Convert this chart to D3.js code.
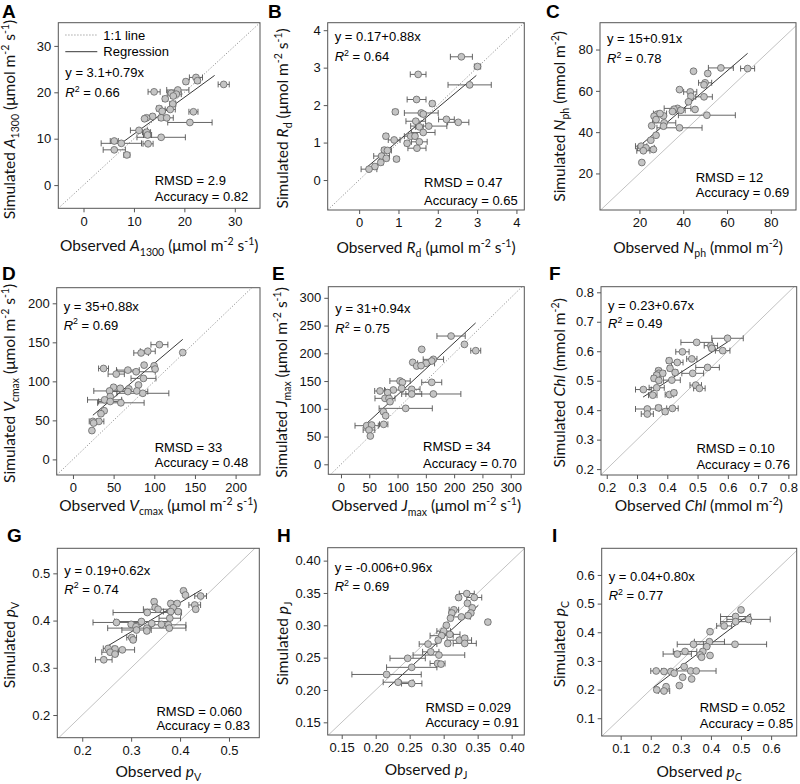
<!DOCTYPE html>
<html><head><meta charset="utf-8">
<script src="https://cdn.jsdelivr.net/npm/d3@7"></script>
<style>body{margin:0;background:#fff} svg{display:block} text{white-space:pre}</style>
</head><body><svg id="c" width="800" height="784"></svg>
<script>
// ---------- DATA ----------
const aObs = [22.3,22.6,20.3,27.8,14.0,18.7,17.4,18.4,17.8,16.2,17.7,15.0,17.2,15.6,21.8,13.7,15.4,12.5,12.1,16.5,21.1,11.0,12.5,12.7,15.4,6.1,7.5,12.8,6.1,8.6];
const aSim = [23.2,22.5,22.3,21.7,20.1,20.5,19.8,19.6,19.2,18.6,17.5,16.5,16.3,15.9,15.8,14.8,14.5,14.5,14.3,14.5,13.5,11.8,11.4,10.8,10.3,9.5,9.0,8.9,7.6,6.5];
const aErr = [1.3,0.5,0.4,1.1,1.2,2.2,0.8,1.0,0.5,0.5,0.6,0.5,1.0,0.5,0.9,0.4,0.5,0.4,0.4,1.3,4.4,1.7,0.8,0.8,4.8,0.8,4.0,1.0,2.2,0.6];

const bObs = [2.60,3.01,1.50,2.81,1.46,1.86,0.92,1.58,1.63,2.22,2.52,1.44,1.53,1.77,1.63,0.68,1.31,1.42,0.89,1.53,1.22,1.47,0.64,0.72,0.57,0.69,0.95,0.55,0.40,0.25];
const bSim = [3.29,3.03,2.82,2.54,2.15,2.04,1.82,1.79,1.76,1.62,1.54,1.57,1.42,1.44,1.27,1.17,1.17,1.17,1.07,1.02,0.98,0.85,0.80,0.79,0.64,0.58,0.56,0.47,0.36,0.29];
const bErr = [0.28,0.08,0.2,0.55,0.24,0.06,0.06,0.43,0.06,0.2,0.27,0.25,0.1,0.46,0.3,0.06,0.16,0.06,0.15,0.2,0.06,0.23,0.06,0.1,0.2,0.06,0.06,0.06,0.06,0.2];

const cObs = [57.2,69.4,44.7,51.2,50.0,49.5,38.3,43.2,43.5,49.5,42.4,37.4,35.8,38.9,35.1,45.4,50.8,28.2,26.7,31.0,29.4,27.6,31.3,38.3,31.0,25.6,27.6,25.2,20.8,23.0,21.8,26.4,21.1];
const cSim = [71.1,70.8,69.5,68.4,63.9,62.9,60.6,59.5,57.4,57.1,54.7,51.5,51.1,50.6,50.0,51.0,48.2,48.7,47.7,47.9,49.0,46.1,44.5,42.1,42.9,43.1,38.5,36.1,33.2,32.4,31.0,31.6,25.3];
const cErr = [5.7,3.2,0.5,0.5,3.0,1.0,0.5,3.0,1.0,3.8,0.5,6.1,0.5,2.0,0.5,0.5,13,0.5,0.5,0.5,3.0,0.5,5.3,10.3,0.5,0.5,0.5,0.5,2.6,3.8,3.0,0.5,0.5];

const dObs = [106.3,92.0,83.8,135.0,37.6,99.8,87.5,101,67.5,77.7,53.2,86.7,80.6,49.9,58.1,68.7,45,78.5,67.5,85.9,45.8,38.9,45.8,58.9,38.4,34.4,31.9,24.5,25.4,23.3];
const dSim = [147.0,138.6,136.4,136.9,116.5,119.9,120.8,115.7,114.4,112.3,109.3,103.8,95.3,92.4,91.1,90.3,87.7,87.7,86.9,84.7,80.5,76.3,74.2,72.5,62.3,58.5,48.7,48.7,46.6,36.9];
const dErr = [10.4,9.2,9,2,6.1,2,2,2,14,23.5,10,15.3,2,2,2,2,19.4,2,24.5,32,2,21,14.3,28.6,2,2,6.1,4.5,2,2];

const eObs = [194.6,218.2,238.2,142.7,163.3,160.4,126.8,150.4,133.8,141.5,104.4,108.5,160.4,92.6,125.0,69.0,82.5,107.3,163.3,125,77.8,84.9,86.7,114.4,74.9,79.0,75.5,45.4,54.2,49.5,51.9];
const eSim = [231.1,216.1,204.7,207.1,189.1,186.1,183.7,181.9,177.1,177.7,150.1,147.7,147.7,133.9,135.1,132.1,129.1,136.9,126.7,126.7,118.8,118.8,112.8,100.8,94.8,87.6,72.0,69.6,70.8,61.8,51.0];
const eErr = [25,2,8.8,2,18,2,2,15,2,2,18,2,17.7,15.6,14.7,9.4,2,2,48.6,17.7,17.7,2,2,47,2,2,7.4,20.6,2,10.3,2];

const fObs = [0.599,0.497,0.544,0.547,0.583,0.450,0.481,0.406,0.433,0.533,0.409,0.371,0.426,0.372,0.385,0.484,0.365,0.356,0.372,0.415,0.494,0.506,0.321,0.365,0.352,0.407,0.422,0.334,0.371,0.417,0.393,0.334];
const fSim = [0.644,0.630,0.619,0.610,0.602,0.598,0.574,0.568,0.562,0.545,0.542,0.534,0.528,0.525,0.525,0.525,0.519,0.508,0.501,0.502,0.485,0.474,0.470,0.476,0.451,0.453,0.459,0.404,0.408,0.406,0.395,0.387];
const fErr = [0.052,0.052,0.022,0.008,0.024,0.022,0.017,0.008,0.019,0.039,0.008,0.008,0.008,0.008,0.008,0.036,0.008,0.008,0.008,0.028,0.019,0.019,0.026,0.025,0.014,0.014,0.008,0.039,0.008,0.019,0.008,0.02];

const gObs = [0.407,0.411,0.442,0.347,0.381,0.394,0.349,0.386,0.430,0.432,0.355,0.396,0.381,0.333,0.379,0.270,0.300,0.321,0.342,0.362,0.376,0.310,0.332,0.378,0.311,0.332,0.301,0.304,0.253,0.267,0.282,0.257,0.267,0.244];
const gSim = [0.463,0.454,0.452,0.440,0.436,0.436,0.428,0.427,0.433,0.424,0.424,0.419,0.419,0.417,0.405,0.396,0.392,0.398,0.394,0.392,0.391,0.387,0.384,0.384,0.380,0.378,0.364,0.359,0.341,0.340,0.338,0.333,0.329,0.317];
const gErr = [0.004,0.004,0.012,0.004,0.004,0.004,0.004,0.004,0.012,0.004,0.03,0.004,0.015,0.07,0.022,0.048,0.004,0.055,0.004,0.004,0.036,0.004,0.08,0.004,0.03,0.004,0.01,0.004,0.01,0.004,0.025,0.017,0.004,0.017];

const hObs = [0.334,0.322,0.345,0.335,0.342,0.315,0.312,0.340,0.326,0.336,0.310,0.365,0.304,0.300,0.309,0.297,0.323,0.331,0.306,0.331,0.277,0.292,0.281,0.293,0.247,0.291,0.296,0.253,0.216,0.233,0.253];
const hSim = [0.349,0.343,0.343,0.334,0.327,0.324,0.319,0.319,0.313,0.315,0.311,0.305,0.300,0.291,0.286,0.284,0.277,0.280,0.272,0.272,0.271,0.277,0.259,0.254,0.249,0.241,0.240,0.235,0.224,0.212,0.210];
const hErr = [0.011,0.003,0.011,0.003,0.003,0.007,0.003,0.003,0.013,0.003,0.003,0.003,0.003,0.01,0.015,0.017,0.018,0.003,0.003,0.017,0.013,0.003,0.012,0.038,0.026,0.011,0.003,0.037,0.051,0.022,0.015];

const iObs = [0.500,0.482,0.525,0.482,0.444,0.397,0.395,0.480,0.342,0.386,0.314,0.288,0.373,0.364,0.397,0.369,0.311,0.218,0.244,0.267,0.278,0.333,0.351,0.306,0.336,0.295,0.251,0.220,0.244];
const iSim = [0.478,0.455,0.445,0.437,0.422,0.402,0.367,0.358,0.358,0.350,0.333,0.324,0.333,0.321,0.319,0.313,0.280,0.265,0.263,0.263,0.257,0.265,0.265,0.243,0.237,0.214,0.210,0.199,0.195];
const iErr = [0.004,0.05,0.072,0.05,0.025,0.004,0.05,0.105,0.054,0.004,0.039,0.047,0.004,0.004,0.004,0.004,0.004,0.018,0.004,0.004,0.004,0.004,0.066,0.004,0.004,0.004,0.004,0.004,0.019];

// regression: [intercept, slope, xFrom, xTo]
const regA = [3.1,0.79,7.3,26], regB = [0.17,0.88,0.2,2.98], regC = [15,0.91,21,69.4];
const regD = [35,0.88,24.5,135], regE = [31,0.94,42,238], regF = [0.23,0.67,0.32,0.6];
const regG = [0.19,0.62,0.25,0.444], regH = [-0.006,0.96,0.219,0.351], regI = [0.04,0.80,0.209,0.53];

// stats labels
const eqLabels = ["y = 3.1+0.79x","y = 0.17+0.88x","y = 15+0.91x","y = 35+0.88x","y = 31+0.94x","y = 0.23+0.67x","y = 0.19+0.62x","y = -0.006+0.96x","y = 0.04+0.80x"];
const r2Labels = ["0.66","0.64","0.78","0.69","0.75","0.49","0.74","0.69","0.77"];
const rmsdLabels = ["2.9","0.47","12","33","34","0.10","0.060","0.029","0.052"];
const accLabels = ["0.82","0.65","0.69","0.48","0.70","0.76","0.83","0.91","0.85"];

// tick labels
const ticksA = [0,10,20,30], ticksB = [0,1,2,3,4], ticksC = [20,40,60,80];
const ticksD = [0,50,100,150,200], ticksE = [0,50,100,150,200,250,300];
const ticksF = [0.2,0.3,0.4,0.5,0.6,0.7,0.8], ticksG = [0.2,0.3,0.4,0.5];
const ticksH = [0.15,0.20,0.25,0.30,0.35,0.40], ticksI = [0.1,0.2,0.3,0.4,0.5,0.6];

// axis variable labels
const unitMicro = [[" (μmol m"],["-2","sup"],[" s"],["-1","sup"],[")"]];
const unitMilli = [[" (mmol m"],["-2","sup"],[")"]];
const varA = [["A","i"],["1300","sub"]], varB = [["R","i"],["d","sub"]], varC = [["N","i"],["ph","sub"]];
const varD = [["V","i"],["cmax","sub"]], varE = [["J","i"],["max","sub"]], varF = [["Chl","i"]];
const varG = [["p","i"],["V","sub"]], varH = [["p","i"],["J","sub"]], varI = [["p","i"],["C","sub"]];

// ---------- LAYOUT ----------
const P = [
 {id:"A", box:[58.3,22.7,260,208.3], xd:[-5,35], yd:[-5,35], xt:ticksA, yt:ticksA, fmt:"d", one:"dot", reg:regA, obs:aObs, sim:aSim, err:aErr, v:varA, u:unitMicro, letter:[2,18], ytx:10, yco:4, xto:38, eqo:50, r2g:20, ro:23, ao:7.5, ar:11.7, legend:true},
 {id:"B", box:[327.7,22.7,524.3,210], xd:[-0.8,4.2], yd:[-0.8,4.2], xt:ticksB, yt:ticksB, fmt:"d", one:"dot", reg:regB, obs:bObs, sim:bSim, err:bErr, v:varB, u:unitMicro, letter:[268,18], ytx:283, yco:2, xto:38, eqo:14, r2g:20, ro:23, ao:5.5, ar:6.6},
 {id:"C", box:[600,22.7,796,210], xd:[2,91.5], yd:[2.3,93], xt:ticksC, yt:ticksC, fmt:"d", one:"solid", reg:regC, obs:cObs, sim:cSim, err:cErr, v:varC, u:unitMilli, letter:[546,18], ytx:560, yco:0, xto:38, eqo:15.7, r2g:20, ro:28.5, ao:12.8, ar:6.7},
 {id:"D", box:[56.7,287.7,260,475], xd:[-20,230], yd:[-20,220], xt:ticksD, yt:ticksD, fmt:"d", one:"dot", reg:regD, obs:dObs, sim:dSim, err:dErr, v:varD, u:unitMicro, letter:[2,280], ytx:10, yco:2, xto:31, eqo:19, r2g:18.3, ro:23, ao:8.2, ar:11.7},
 {id:"E", box:[328.3,286.7,524.3,474.3], xd:[-22.4,324], yd:[-18,320], xt:ticksE, yt:ticksE, fmt:"d", one:"dot", reg:regE, obs:eObs, sim:eSim, err:eErr, v:varE, u:unitMicro, letter:[272,280], ytx:282, yco:2, xto:32, eqo:21.7, r2g:20, ro:23.2, ao:6.5, ar:7.6},
 {id:"F", box:[601,286.7,796.7,475], xd:[0.181,0.8275], yd:[0.18,0.819], xt:ticksF, yt:ticksF, fmt:".1f", one:"solid", reg:regF, obs:fObs, sim:fSim, err:fErr, v:varF, u:unitMilli, letter:[549,280], ytx:560, yco:2, xto:31, eqo:18.3, r2g:18.3, ro:22.2, ao:6.5, ar:6.7},
 {id:"G", box:[57.3,548.3,259.3,737.7], xd:[0.149,0.562], yd:[0.152,0.553], xt:ticksG, yt:ticksG, fmt:".1f", one:"solid", reg:regG, obs:gObs, sim:gSim, err:gErr, v:varG, u:null, letter:[7,542], ytx:10, yco:2, xto:34, eqo:21.7, r2g:19, ro:21.5, ao:7.5, ar:9.3},
 {id:"H", box:[327.7,547.7,524.3,735], xd:[0.1294,0.4186], yd:[0.1304,0.42], xt:ticksH, yt:ticksH, fmt:".2f", one:"solid", reg:regH, obs:hObs, sim:hSim, err:hErr, v:varH, u:null, letter:[277,542], ytx:283, yco:2, xto:35, eqo:19.7, r2g:19.3, ro:23.2, ao:7.8, ar:5.3},
 {id:"I", box:[601.7,548.3,796.7,736], xd:[0.037,0.685], yd:[0.038,0.693], xt:ticksI, yt:ticksI, fmt:".1f", one:"solid", reg:regI, obs:iObs, sim:iSim, err:iErr, v:varI, u:null, letter:[552,542], ytx:560, yco:2, xto:36, eqo:28, r2g:19.3, ro:23.8, ao:8.2, ar:3.4}
];

const fontT = "Lato, 'Open Sans', sans-serif";
const fontA = "'Liberation Sans', Arial, sans-serif";
const svg = d3.select("#c");

function rich(sel, segs, size) {
  let cur = 0;
  segs.forEach(([t, s]) => {
    s = s || "";
    let target = 0, fs = size;
    if (s === "sub") { target = size * 0.28; fs = size * 0.68; }
    if (s === "sup") { target = -size * 0.4; fs = size * 0.68; }
    const ts = sel.append("tspan").text(t).attr("font-size", fs).attr("dy", (target - cur).toFixed(2));
    if (s === "i") ts.attr("font-style", "italic");
    cur = target;
  });
}

P.forEach((p, k) => {
  const [x0, y0, x1, y1] = p.box;
  const x = d3.scaleLinear().domain(p.xd).range([x0, x1]);
  const y = d3.scaleLinear().domain(p.yd).range([y1, y0]);
  const g = svg.append("g");
  const clipId = "clip" + p.id;
  g.append("clipPath").attr("id", clipId).append("rect").attr("x", x0).attr("y", y0).attr("width", x1 - x0).attr("height", y1 - y0);

  g.append("text").attr("x", p.letter[0]).attr("y", p.letter[1]).text(p.id)
    .attr("font-family", fontA).attr("font-weight", "bold").attr("font-size", 19);

  const fmt = d3.format(p.fmt);
  const ax = g.append("g").attr("transform", `translate(0,${y1})`)
    .call(d3.axisBottom(x).tickValues(p.xt).tickSize(4).tickSizeOuter(0).tickFormat(fmt));
  const ay = g.append("g").attr("transform", `translate(${x0},0)`)
    .call(d3.axisLeft(y).tickValues(p.yt).tickSize(4).tickSizeOuter(0).tickFormat(fmt));
  [ax, ay].forEach(a => {
    a.select(".domain").remove();
    a.selectAll("line").attr("stroke", "#555");
    a.selectAll("text").attr("font-family", fontA).attr("font-size", 13).attr("fill", "#111");
  });
  ax.selectAll("text").attr("dy", "0.71em").attr("y", 8);
  ay.selectAll("text").attr("x", -7);

  const plot = g.append("g").attr("clip-path", `url(#${clipId})`);
  const lo2 = Math.min(p.xd[0], p.yd[0]), hi2 = Math.max(p.xd[1], p.yd[1]);
  plot.append("line").attr("x1", x(lo2)).attr("y1", y(lo2)).attr("x2", x(hi2)).attr("y2", y(hi2))
    .attr("stroke", p.one === "dot" ? "#888" : "#bbb").attr("stroke-width", 0.9)
    .attr("stroke-dasharray", p.one === "dot" ? "1.2,1.8" : null);

  const [ri, rs, rx0, rx1] = p.reg;
  plot.append("line").attr("x1", x(rx0)).attr("y1", y(ri + rs * rx0)).attr("x2", x(rx1)).attr("y2", y(ri + rs * rx1))
    .attr("stroke", "#222").attr("stroke-width", 0.9);

  const data = p.obs.map((o, i) => ({o, s: p.sim[i], e: p.err[i]}));
  const eb = plot.append("g").attr("stroke", "#555").attr("stroke-width", 0.9).attr("fill", "none");
  data.forEach(d => {
    const yy = y(d.s), xa = x(d.o - d.e), xb = x(d.o + d.e);
    eb.append("line").attr("x1", xa).attr("x2", xb).attr("y1", yy).attr("y2", yy);
    eb.append("line").attr("x1", xa).attr("x2", xa).attr("y1", yy - 3).attr("y2", yy + 3);
    eb.append("line").attr("x1", xb).attr("x2", xb).attr("y1", yy - 3).attr("y2", yy + 3);
  });
  plot.append("g").selectAll("circle").data(data).join("circle")
    .attr("cx", d => x(d.o)).attr("cy", d => y(d.s)).attr("r", 3.4)
    .attr("fill", "#c4c4c4").attr("stroke", "#666").attr("stroke-width", 0.8);

  g.append("rect").attr("x", x0).attr("y", y0).attr("width", x1 - x0).attr("height", y1 - y0)
    .attr("fill", "none").attr("stroke", "#555").attr("stroke-width", 1);

  let eqY = y0 + p.eqo + 4.5;
  if (p.legend) {
    g.append("line").attr("x1", x0 + 7).attr("x2", x0 + 39).attr("y1", y0 + 12.3).attr("y2", y0 + 12.3)
      .attr("stroke", "#888").attr("stroke-width", 0.9).attr("stroke-dasharray", "1.2,1.8");
    g.append("line").attr("x1", x0 + 7).attr("x2", x0 + 39).attr("y1", y0 + 29).attr("y2", y0 + 29)
      .attr("stroke", "#222").attr("stroke-width", 0.9);
    g.append("text").attr("x", x0 + 45).attr("y", y0 + 17).text("1:1 line").attr("font-family", fontA).attr("font-size", 13);
    g.append("text").attr("x", x0 + 45).attr("y", y0 + 33.7).text("Regression").attr("font-family", fontA).attr("font-size", 13);
  }
  g.append("text").attr("x", x0 + 7).attr("y", eqY).text(eqLabels[k]).attr("font-family", fontA).attr("font-size", 13);
  const r2t = g.append("text").attr("x", x0 + 7).attr("y", eqY + p.r2g).attr("font-family", fontA).attr("font-size", 13);
  rich(r2t, [["R","i"],["2","sup"],[" = " + r2Labels[k]]], 13);
  const acc = g.append("text").attr("x", x1 - p.ar).attr("y", y1 - p.ao).attr("text-anchor", "end")
    .text("Accuracy = " + accLabels[k]).attr("font-family", fontA).attr("font-size", 13);
  const w = acc.node().getComputedTextLength();
  g.append("text").attr("x", x1 - p.ar - w).attr("y", y1 - p.ro).text("RMSD = " + rmsdLabels[k])
    .attr("font-family", fontA).attr("font-size", 13);

  const ts = 15.5;
  const xt = g.append("text").attr("x", (x0 + x1) / 2).attr("y", y1 + p.xto + 5).attr("text-anchor", "middle")
    .attr("font-family", fontT).attr("font-size", ts).attr("fill", "#111");
  rich(xt, [["Observed "]].concat(p.v, p.u || []), ts);
  const cy = (y0 + y1) / 2 + p.yco;
  const yt = g.append("text").attr("transform", `translate(${p.ytx + 5},${cy}) rotate(-90)`).attr("text-anchor", "middle")
    .attr("font-family", fontT).attr("font-size", ts).attr("fill", "#111");
  rich(yt, [["Simulated "]].concat(p.v, p.u || []), ts);
});
</script></body></html>
